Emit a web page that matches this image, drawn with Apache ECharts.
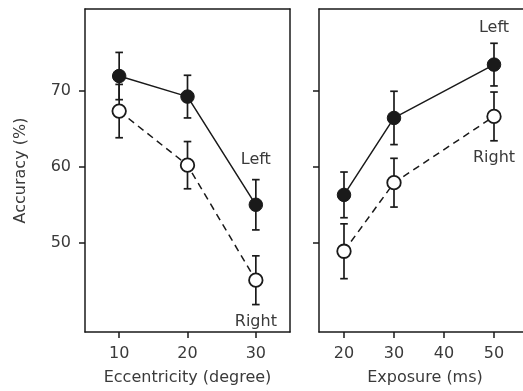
<!DOCTYPE html>
<html><head><meta charset="utf-8">
<script src="https://cdn.jsdelivr.net/npm/echarts@6/dist/echarts.min.js"></script>
<style>html,body{margin:0;padding:0;background:#fff;overflow:hidden;width:523px;height:391px}#c{width:550px;height:391px}</style>
</head><body><div id="c"></div>
<script>
// Panel 1: Eccentricity
const eccentricity = [10, 20, 30];
const eccLeftMean = [71.9, 69.2, 55.0];
const eccLeftErr = [3.1, 2.8, 3.3];
const eccRightMean = [67.3, 60.2, 45.1];
const eccRightErr = [3.5, 3.1, 3.2];
// Panel 2: Exposure
const exposure = [20, 30, 50];
const expLeftMean = [56.3, 66.4, 73.4];
const expLeftErr = [3.0, 3.5, 2.8];
const expRightMean = [48.9, 57.9, 66.6];
const expRightErr = [3.6, 3.2, 3.2];
// Ticks
const eccTicks = [10, 20, 30];
const expTicks = [20, 30, 40, 50];
const yTicks = [50, 60, 70];
const seriesNames = ['Left', 'Right'];

const FONT = 'DejaVu Sans';
const TXT = '#3a3a3a';
const INK = '#1a1a1a';
const Y_MIN = 38.3, Y_MAX = 80.7;

function errSeries(idx, xs, means, errs) {
  return {
    type: 'custom', xAxisIndex: idx, yAxisIndex: idx, z: 1, silent: true,
    encode: { x: 0, y: [1, 2] },
    data: xs.map((x, i) => [x, means[i] - errs[i], means[i] + errs[i]]),
    renderItem(params, api) {
      const lo = api.coord([api.value(0), api.value(1)]);
      const hi = api.coord([api.value(0), api.value(2)]);
      const w = 3.8;
      const st = { stroke: INK, lineWidth: 1.7 };
      return { type: 'group', children: [
        { type: 'line', shape: { x1: lo[0], y1: lo[1], x2: hi[0], y2: hi[1] }, style: st },
        { type: 'line', shape: { x1: lo[0] - w, y1: lo[1], x2: lo[0] + w, y2: lo[1] }, style: st },
        { type: 'line', shape: { x1: hi[0] - w, y1: hi[1], x2: hi[0] + w, y2: hi[1] }, style: st }
      ]};
    }
  };
}

function meanSeries(idx, xs, means, filled, name, labelPos, labelDist) {
  const data = xs.map((x, i) => {
    const d = { value: [x, means[i]] };
    if (i === xs.length - 1) {
      d.label = { show: true, formatter: name, position: labelPos, distance: labelDist,
        color: TXT, fontFamily: FONT, fontSize: 16 };
    }
    return d;
  });
  return {
    type: 'line', name, xAxisIndex: idx, yAxisIndex: idx, z: 3, silent: true,
    data, symbol: 'circle', symbolSize: 13.5, showSymbol: true,
    itemStyle: filled ? { color: INK, borderColor: INK, borderWidth: 1 }
                      : { color: '#fff', borderColor: INK, borderWidth: 1.8 },
    lineStyle: { color: INK, width: 1.5, type: filled ? 'solid' : [7, 5] },
    emphasis: { disabled: true }, animation: false
  };
}

const lineStyle = { color: INK, width: 1.5 };
function xAxis(idx, min, max, ticks, name) {
  return {
    type: 'value', gridIndex: idx, min, max, position: 'bottom',
    axisLine: { show: true, onZero: false, lineStyle },
    axisTick: { show: true, customValues: ticks, length: 6, inside: false, lineStyle },
    axisLabel: { customValues: ticks, margin: 14, color: TXT, fontFamily: FONT, fontSize: 16 },
    splitLine: { show: false },
    name, nameLocation: 'middle', nameGap: 38,
    nameTextStyle: { color: TXT, fontFamily: FONT, fontSize: 16 }
  };
}
function frameX(idx, min, max) {
  return { type: 'value', gridIndex: idx, min, max, position: 'top',
    axisLine: { show: true, onZero: false, lineStyle }, axisTick: { show: false },
    axisLabel: { show: false }, splitLine: { show: false } };
}
function yAxis(idx, showLabels) {
  return {
    type: 'value', gridIndex: idx, min: Y_MIN, max: Y_MAX, position: 'left',
    axisLine: { show: true, onZero: false, lineStyle },
    axisTick: { show: true, customValues: yTicks, length: 6, lineStyle },
    axisLabel: { show: showLabels, customValues: yTicks, margin: 14, color: TXT, fontFamily: FONT, fontSize: 16 },
    splitLine: { show: false },
    name: showLabels ? 'Accuracy (%)' : '', nameLocation: 'middle', nameGap: 56, nameRotate: 90,
    nameTextStyle: { color: TXT, fontFamily: FONT, fontSize: 16 }
  };
}
function frameY(idx) {
  return { type: 'value', gridIndex: idx, min: Y_MIN, max: Y_MAX, position: 'right',
    axisLine: { show: true, onZero: false, lineStyle }, axisTick: { show: false },
    axisLabel: { show: false }, splitLine: { show: false } };
}

const chart = echarts.init(document.getElementById('c'), null, { renderer: 'canvas' });
chart.setOption({
  animation: false,
  backgroundColor: '#fff',
  grid: [
    { left: 85, top: 9, width: 205, height: 325, show: false, containLabel: false },
    { left: 319, top: 9, width: 212, height: 325, show: false, containLabel: false }
  ],
  xAxis: [
    xAxis(0, 5, 35, eccTicks, 'Eccentricity (degree)'),
    xAxis(1, 15, 57.4, expTicks, 'Exposure (ms)'),
    frameX(0, 5, 35),
    frameX(1, 15, 57.4)
  ],
  yAxis: [yAxis(0, true), yAxis(1, false), frameY(0)],
  series: [
    errSeries(0, eccentricity, eccLeftMean, eccLeftErr),
    errSeries(0, eccentricity, eccRightMean, eccRightErr),
    meanSeries(0, eccentricity, eccLeftMean, true, seriesNames[0], 'top', 30),
    meanSeries(0, eccentricity, eccRightMean, false, seriesNames[1], 'bottom', 26),
    errSeries(1, exposure, expLeftMean, expLeftErr),
    errSeries(1, exposure, expRightMean, expRightErr),
    meanSeries(1, exposure, expLeftMean, true, seriesNames[0], 'top', 22),
    meanSeries(1, exposure, expRightMean, false, seriesNames[1], 'bottom', 26)
  ]
});
</script>
</body></html>
